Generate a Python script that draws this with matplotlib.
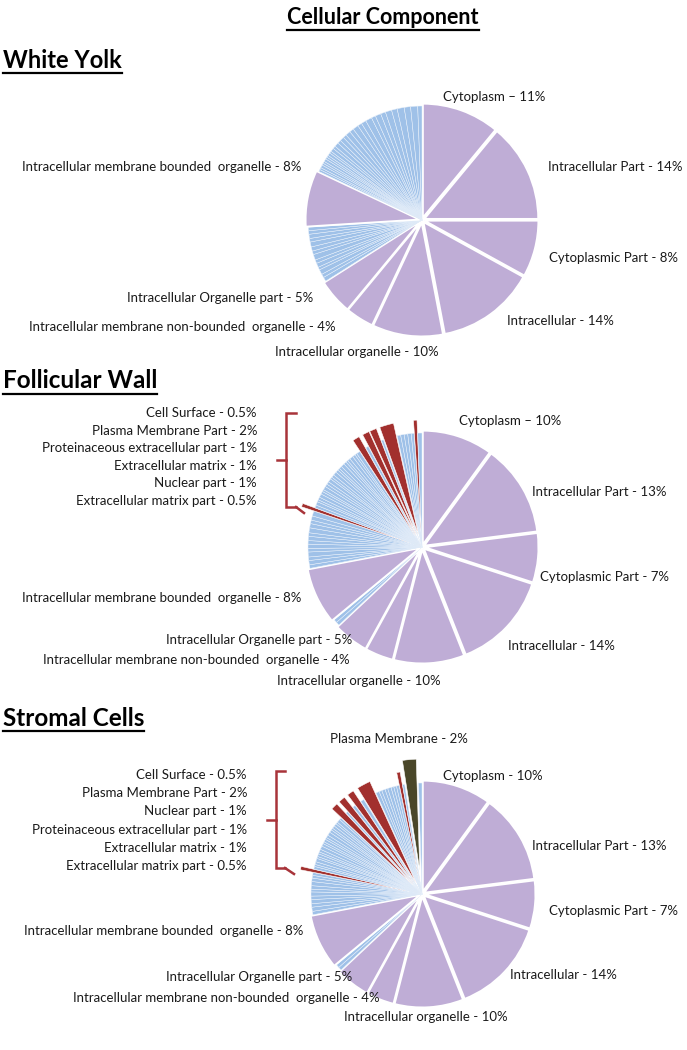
import matplotlib
matplotlib.use("Agg")
import matplotlib.pyplot as plt

plt.rcParams['font.family'] = ['Lato', 'DejaVu Sans']

# ---------------- DATA ----------------
main_labels = ["Cytoplasm", "Intracellular Part", "Cytoplasmic Part", "Intracellular",
               "Intracellular organelle", "Intracellular membrane non-bounded  organelle",
               "Intracellular Organelle part", "Intracellular membrane bounded  organelle"]

# White Yolk
wy_main = [11, 14, 8, 14, 10, 4, 5, 8]
wy_blue_low = [0.6, 0.5, 0.7, 0.4, 0.6, 0.5, 0.8, 0.5, 0.6, 0.7, 0.5, 0.6, 0.5, 0.5]
wy_blue_high = [0.3, 0.3, 0.4, 0.3, 0.3, 0.4, 0.3, 0.3, 0.4, 0.3,
                0.5, 0.4, 0.6, 0.5, 0.6, 0.5, 0.7, 0.6, 0.8, 0.6,
                0.7, 0.9, 0.6, 0.8, 0.7, 0.9, 0.8, 1.0, 0.9, 1.0, 0.6]

# Follicular Wall
fw_main = [10, 13, 7, 14, 10, 4, 5, 8]
fw_blue_low = [0.5, 0.5]
fw_blue_a = [0.5, 0.6, 0.5, 0.7, 0.5, 0.6, 0.5, 0.6, 0.5, 0.7, 0.6, 0.5, 0.6, 0.7]
fw_blue_b = [0.4, 0.5, 0.3, 0.4, 0.5, 0.4, 0.3, 0.5, 0.4, 0.4, 0.5, 0.3, 0.4,
             0.5, 0.4, 0.3, 0.4, 0.5, 0.4, 0.3, 0.4, 0.5, 0.4, 0.3, 0.5]
fw_blue_c = [0.5, 0.5, 0.5, 0.5, 0.4]
fw_red_labels = ["Cell Surface", "Plasma Membrane Part", "Proteinaceous extracellular part",
                 "Extracellular matrix", "Nuclear part", "Extracellular matrix part"]
fw_red = [0.5, 2, 1, 1, 1, 0.5]

# Stromal Cells
sc_main = [10, 13, 7, 14, 10, 4, 5, 8]
sc_blue_low = [0.5, 0.5]
sc_blue_a = [0.5, 0.6, 0.5, 0.6, 0.5, 0.6, 0.4, 0.5, 0.6, 0.5, 0.4, 0.4]
sc_blue_b = [0.4, 0.3, 0.4, 0.5, 0.3, 0.4, 0.3, 0.4, 0.5, 0.4, 0.3,
             0.4, 0.3, 0.4, 0.5, 0.4, 0.3, 0.4, 0.4, 0.3, 0.5, 0.3]
sc_blue_c = [0.5, 0.4, 0.5, 0.4, 0.5, 0.4, 0.4, 0.4]
sc_red_labels = ["Cell Surface", "Plasma Membrane Part", "Nuclear part",
                 "Proteinaceous extracellular part", "Extracellular matrix",
                 "Extracellular matrix part"]
sc_red = [0.5, 2, 1, 1, 1, 0.5]
sc_pm_label = "Plasma Membrane"
sc_pm = 2

# ---------------- STYLE ----------------
LAV = "#BFADD6"
BLUE = "#9FC1E8"
BLUE_EDGE = "#E9F1FB"
RED = "#A2302E"
OLIVE = "#4A4729"
BRK = "#A8343A"
TXT = "#1A1A1A"
H = 1050

fig = plt.figure(figsize=(6.87, 10.5), dpi=100)
ax = fig.add_axes([0, 0, 1, 1])


def build(parts):
    vals, cols, expl, lws, ecs = [], [], [], [], []
    for v, kind in parts:
        vals.append(v)
        if kind == "L":
            cols.append(LAV); expl.append(2.5); lws.append(1.4); ecs.append("white")
        elif kind == "B":
            cols.append(BLUE); expl.append(0.0); lws.append(0.35); ecs.append(BLUE_EDGE)
        elif kind == "R":
            cols.append(RED); expl.append(13.0); lws.append(0.4); ecs.append("white")
        else:
            cols.append(OLIVE); expl.append(24.0); lws.append(0.4); ecs.append("white")
    return vals, cols, expl, lws, ecs


def draw_pie(parts, cx, cy, r):
    vals, cols, expl, lws, ecs = build(parts)
    wedges, _ = ax.pie(vals, colors=cols, explode=expl, startangle=90,
                       counterclock=False, radius=r, center=(cx, H - cy),
                       frame=True, normalize=True)
    for w, lw, ec in zip(wedges, lws, ecs):
        w.set_linewidth(lw)
        w.set_edgecolor(ec)
    return wedges


def B(lst):
    return [(v, "B") for v in lst]


# White Yolk pie
wy_parts = ([(v, "L") for v in wy_main[:7]] + B(wy_blue_low) +
            [(wy_main[7], "L")] + B(wy_blue_high))
draw_pie(wy_parts, 422, 220, 114)

# Follicular Wall pie (reds in clockwise order: bottom label first)
fr = fw_red[::-1]  # EMP, Nuclear, ECM, Prot, PMP, CellSurface
fw_parts = ([(v, "L") for v in fw_main[:7]] + B(fw_blue_low) + [(fw_main[7], "L")] +
            B(fw_blue_a) + [(fr[0], "R")] + B(fw_blue_b) + [(fr[1], "R")] + B([0.4]) +
            [(fr[2], "R"), (fr[3], "R")] + B([0.3]) + [(fr[4], "R")] + B(fw_blue_c) +
            [(fr[5], "R")] + B([0.6]))
draw_pie(fw_parts, 422, 547, 114)

sr = sc_red[::-1]  # EMP, ECM, Prot, Nuclear, PMP, CellSurface
sc_parts = ([(v, "L") for v in sc_main[:7]] + B(sc_blue_low) + [(sc_main[7], "L")] +
            B(sc_blue_a) + [(sr[0], "R")] + B(sc_blue_b) + [(sr[1], "R")] + B([0.3]) +
            [(sr[2], "R")] + B([0.4]) + [(sr[3], "R")] + B([0.5]) + [(sr[4], "R")] +
            B(sc_blue_c) + [(sr[5], "R")] + B([0.3]) + [(sc_pm, "O")] + B([0.5]))
draw_pie(sc_parts, 422, 894, 111)

ax.set_xlim(0, 687)
ax.set_ylim(0, H)
ax.set_aspect("auto")
ax.axis("off")

FS = 9.5


def lab(x, y, s, ha):
    ax.text(x, H - y, s, ha=ha, va="center", fontsize=FS, color=TXT)


def pct(v):
    return ("%g" % v) + "%"


# Pie 1 labels
lab(443, 97, main_labels[0] + " \u2013 " + pct(wy_main[0]), "left")
lab(548, 167, main_labels[1] + " - " + pct(wy_main[1]), "left")
lab(549, 258, main_labels[2] + " - " + pct(wy_main[2]), "left")
lab(507, 321, main_labels[3] + " - " + pct(wy_main[3]), "left")
lab(275, 352, main_labels[4] + " - " + pct(wy_main[4]), "left")
lab(336, 327, main_labels[5] + " - " + pct(wy_main[5]), "right")
lab(313, 298, main_labels[6] + " - " + pct(wy_main[6]), "right")
lab(301, 167, main_labels[7] + " - " + pct(wy_main[7]), "right")

# Pie 2 labels
lab(459, 421, main_labels[0] + " \u2013 " + pct(fw_main[0]), "left")
lab(532, 492, main_labels[1] + " - " + pct(fw_main[1]), "left")
lab(540, 577, main_labels[2] + " - " + pct(fw_main[2]), "left")
lab(508, 646, main_labels[3] + " - " + pct(fw_main[3]), "left")
lab(277, 681, main_labels[4] + " - " + pct(fw_main[4]), "left")
lab(350, 660, main_labels[5] + " - " + pct(fw_main[5]), "right")
lab(352, 640, main_labels[6] + " - " + pct(fw_main[6]), "right")
lab(301, 598, main_labels[7] + " - " + pct(fw_main[7]), "right")
for i, (l, v) in enumerate(zip(fw_red_labels, fw_red)):
    lab(257, 413 + i * 17.6, l + " - " + pct(v), "right")

# Pie 3 labels
lab(330, 739, sc_pm_label + " - " + pct(sc_pm), "left")
lab(443, 776, main_labels[0] + " - " + pct(sc_main[0]), "left")
lab(532, 846, main_labels[1] + " - " + pct(sc_main[1]), "left")
lab(549, 911, main_labels[2] + " - " + pct(sc_main[2]), "left")
lab(510, 975, main_labels[3] + " - " + pct(sc_main[3]), "left")
lab(344, 1017, main_labels[4] + " - " + pct(sc_main[4]), "left")
lab(380, 998, main_labels[5] + " - " + pct(sc_main[5]), "right")
lab(352, 977, main_labels[6] + " - " + pct(sc_main[6]), "right")
lab(303, 931, main_labels[7] + " - " + pct(sc_main[7]), "right")
for i, (l, v) in enumerate(zip(sc_red_labels, sc_red)):
    lab(247, 775 + i * 18.2, l + " - " + pct(v), "right")


# Brackets
def bracket(x, y0, y1, arm, tick, tail):
    ym = (y0 + y1) / 2
    ax.plot([x + arm, x, x, x + arm], [H - y0, H - y0, H - y1, H - y1],
            color=BRK, lw=1.8, solid_joinstyle="miter")
    ax.plot([x, x - tick], [H - ym, H - ym], color=BRK, lw=1.8)
    ax.plot([x + arm, tail[0]], [H - y1, H - tail[1]], color=BRK, lw=1.8)


bracket(286, 413, 507, 10, 9, (304, 513))
bracket(276, 771, 868, 9, 9, (294, 874))

# Titles with underline
titles = [("Cellular Component", 383, 18, "center", 15.5),
          ("White Yolk", 3, 60, "left", 17),
          ("Follicular Wall", 3, 381, "left", 17.5),
          ("Stromal Cells", 3, 718, "left", 17.5)]
tobjs = []
for s, x, y, ha, fs in titles:
    t = ax.text(x, H - y, s, ha=ha, va="center", fontsize=fs, fontweight="bold", color="black")
    tobjs.append(t)

fig.canvas.draw()
r = fig.canvas.get_renderer()
inv = ax.transData.inverted()
for t in tobjs:
    bb = t.get_window_extent(renderer=r)
    (x0, y0), (x1, y1) = inv.transform([[bb.x0, bb.y0], [bb.x1, bb.y1]])
    ax.plot([x0, x1], [y0 - 1, y0 - 1], color="black", lw=1.6)

fig.savefig("out.png", dpi=100, facecolor="white")
